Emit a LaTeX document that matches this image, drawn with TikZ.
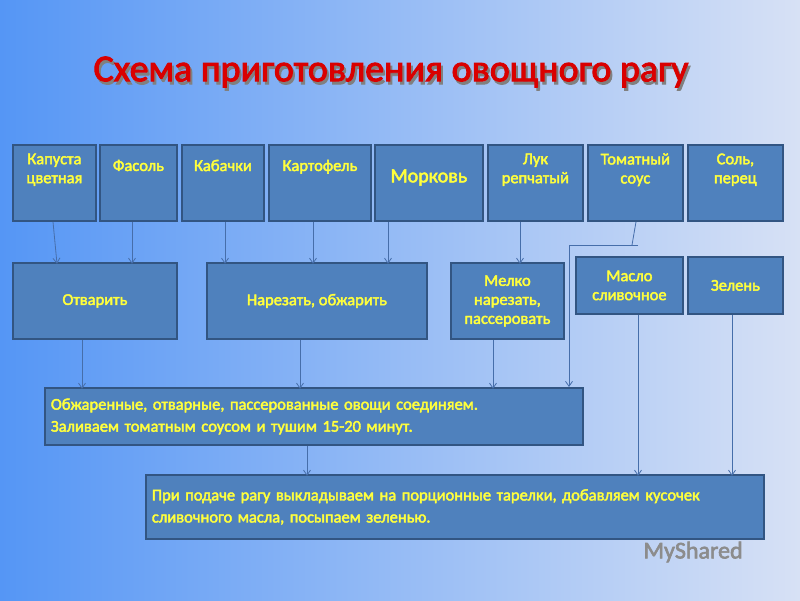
\documentclass[tikz,border=0pt]{standalone}
\usepackage{fontspec}
\setmainfont{Carlito}[AutoFakeBold=2.5]
\usetikzlibrary{shadows,arrows.meta}
\definecolor{boxfill}{RGB}{79,129,189}
\definecolor{boxline}{RGB}{50,85,130}
\definecolor{txt}{RGB}{255,255,60}
\definecolor{arr}{RGB}{70,110,170}
\definecolor{bgl}{RGB}{85,150,245}
\definecolor{bgr}{RGB}{215,225,245}
\tikzset{
  bx/.style={draw=boxline, line width=1.8pt, fill=boxfill, inner sep=0pt, anchor=north west,
    text=txt, font=\bfseries\fontsize{16.5}{19}\selectfont, align=center,
    drop shadow={shadow xshift=1.5pt, shadow yshift=-1.5pt, fill=black, opacity=0.35}},
  ar/.style={draw=arr, line width=0.8pt, -{Straight Barb[length=5pt,width=7pt]}},
  ln/.style={draw=arr, line width=0.8pt}
}
\newcommand{\bxn}[6]{\node[bx, minimum width=#4pt, minimum height=#5pt] (#1) at (#2,#3) {#6};}
\begin{document}
\begin{tikzpicture}[x=1pt,y=-1pt]
\useasboundingbox (0,0) rectangle (800,600);
\shade[left color=bgl, right color=bgr] (0,0) rectangle (800,600);
\node[text=black!50, font=\bfseries\fontsize{38}{44}\selectfont] (tsh) at (393,75) {Схема приготовления овощного рагу};
\node[text=red!85!black, font=\bfseries\fontsize{38}{44}\selectfont] (title) at (391,72) {Схема приготовления овощного рагу};
\bxn{kap}{12}{144}{83}{76}{Капуста\\цветная\\[10pt]}
\bxn{fas}{99}{144}{77}{76}{Фасоль\\[16pt]}
\bxn{kab}{181}{144}{82}{76}{Кабачки\\[16pt]}
\bxn{kar}{268}{144}{102}{76}{Картофель\\[16pt]}
\node[bx, minimum width=108pt, minimum height=76pt, font=\bfseries\fontsize{20}{22}\selectfont, text depth=14pt] (mor) at (374,144) {Морковь};
\bxn{luk}{487}{144}{95}{76}{Лук\\репчатый\\[10pt]}
\bxn{tom}{587}{144}{95}{76}{Томатный\\соус\\[10pt]}
\bxn{sol}{687}{144}{95}{76}{Соль,\\перец\\[10pt]}
\bxn{otv}{12}{262}{164}{76}{Отварить}
\bxn{nar}{206}{262}{220}{76}{Нарезать, обжарить}
\bxn{mel}{450}{262}{113}{76}{Мелко\\нарезать,\\пассеровать}
\bxn{mas}{575}{256}{107}{57}{Масло\\сливочное}
\bxn{zel}{687}{256}{95}{57}{Зелень}
\node[bx, minimum width=538pt, minimum height=57pt, align=left, text width=530pt, font=\bfseries\fontsize{16.5}{22}\selectfont] (soed) at (44,387) {\hspace*{2pt}Обжаренные, отварные, пассерованные овощи соединяем.\\\hspace*{2pt}Заливаем томатным соусом и тушим 15-20 минут.};
\node[bx, minimum width=618pt, minimum height=64pt, align=left, text width=610pt, font=\bfseries\fontsize{16.5}{22}\selectfont] (pod) at (145,474) {\hspace*{2pt}При подаче рагу выкладываем на порционные тарелки, добавляем кусочек\\\hspace*{2pt}сливочного масла, посыпаем зеленью.};
\coordinate (t1) at (632,245);
\coordinate (t2) at (569,245);
\coordinate (t3) at (638,245);
\draw[ar] (kap.south west)++(41,0) -- ++(4,42);
\draw[ar] (fas.south west)++(33,0) -- ++(0,42);
\draw[ar] (kab.south west)++(44,0) -- ++(0,42);
\draw[ar] (kar.south west)++(45,0) -- ++(0,42);
\draw[ar] (mor.south west)++(14,0) -- ++(0,42);
\draw[ar] (luk.south west)++(33,0) -- ++(0,42);
\draw[ln] (tom.south west)++(49,0) -- (t1);
\draw[ln] (t3) -- (t2);
\draw[ar] (t2) -- (t2 |- soed.north);
\draw[ar] (otv.south west)++(70,0) -- ++(0,49);
\draw[ar] (nar.south west)++(94,0) -- ++(0,49);
\draw[ar] (mel.south west)++(43,0) -- ++(0,49);
\draw[ar] (mas.south west)++(63,0) -- ++(0,161);
\draw[ar] (zel.south west)++(45,0) -- ++(0,161);
\draw[ar] (soed.south west)++(263,0) -- ++(0,30);
\node[text=black!45, font=\bfseries\fontsize{24}{26}\selectfont, anchor=west] (logo) at (640,552) {MyShared};
\end{tikzpicture}
\end{document}
